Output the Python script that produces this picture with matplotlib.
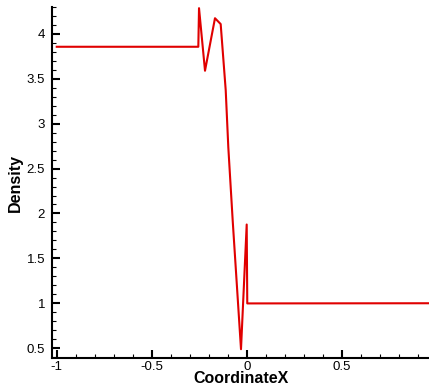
import matplotlib
matplotlib.use("Agg")
import matplotlib.pyplot as plt
from matplotlib.ticker import MultipleLocator

# Data
x_vals = [-1.0, -0.2547, -0.251, -0.2195, -0.167, -0.137, -0.1105, -0.0968,
          -0.0737, -0.030, 0.0, 0.003, 1.0]
density = [3.857, 3.857, 4.287, 3.59, 4.175, 4.11, 3.374, 2.737,
           1.92, 0.488, 1.877, 0.998, 1.0]

x_ticks = [-1, -0.5, 0, 0.5]
x_tick_labels = ["-1", "-0.5", "0", "0.5"]
y_ticks = [0.5, 1, 1.5, 2, 2.5, 3, 3.5, 4]
y_tick_labels = ["0.5", "1", "1.5", "2", "2.5", "3", "3.5", "4"]

plt.rcParams['font.family'] = ['Liberation Sans', 'DejaVu Sans']

fig = plt.figure(figsize=(4.29, 3.89), dpi=100)
ax = fig.add_axes([52/429, 31/389, 378/429, 351/389])

ax.plot(x_vals, density, color='#e00000', linewidth=1.5, clip_on=False)

ax.set_xlim(-1.025, 0.965)
ax.set_ylim(0.39, 4.3)

ax.set_xticks(x_ticks)
ax.set_xticklabels(x_tick_labels)
ax.set_yticks(y_ticks)
ax.set_yticklabels(y_tick_labels)
ax.xaxis.set_minor_locator(MultipleLocator(0.1))
ax.yaxis.set_minor_locator(MultipleLocator(0.1))

ax.tick_params(which='major', direction='in', length=6, width=1.5, labelsize=9.5,
               colors='black')
ax.tick_params(axis='x', which='major', pad=2)
ax.tick_params(axis='y', which='major', pad=5)
ax.tick_params(which='minor', direction='in', length=3, width=0.8)
ax.tick_params(axis='y', which='both', right=False)
ax.tick_params(axis='x', which='both', top=False)

for s in ['top', 'right']:
    ax.spines[s].set_visible(False)
for s in ['left', 'bottom']:
    ax.spines[s].set_linewidth(1.5)

ax.set_xlabel('CoordinateX', fontsize=11.5, fontweight='bold', labelpad=-1)
ax.set_ylabel('Density', fontsize=11.5, fontweight='bold', labelpad=3)

fig.savefig('out.png', dpi=100)
